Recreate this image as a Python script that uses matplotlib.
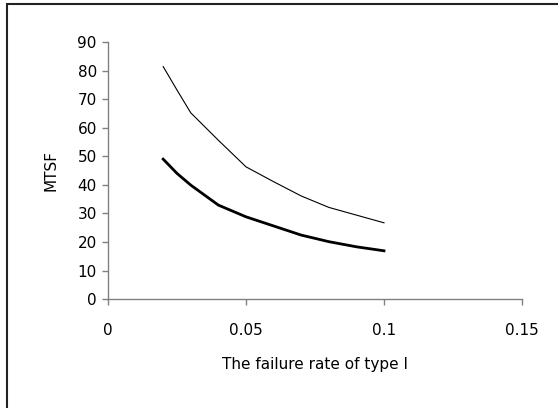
import matplotlib
matplotlib.use("Agg")
import matplotlib.pyplot as plt
from matplotlib.patches import Rectangle

plt.rcParams['font.family'] = ['DejaVu Sans']

# failure rate of type I
rate = [0.02, 0.025, 0.03, 0.04, 0.05, 0.06, 0.07, 0.08, 0.09, 0.1]
# MTSF, two series
mtsf_upper = [81.4, 73.2, 65.2, 55.6, 46.3, 41.1, 36.1, 32.1, 29.4, 26.7]
mtsf_lower = [49.0, 44.0, 39.9, 32.9, 28.8, 25.6, 22.4, 20.1, 18.3, 16.9]

xticks = [0, 0.05, 0.1, 0.15]
xtick_labels = ["0", "0.05", "0.1", "0.15"]
yticks = list(range(0, 100, 10))

fig = plt.figure(figsize=(5.58, 4.08), dpi=100)
ax = fig.add_axes([0.1935, 0.267, 0.742, 0.63])

ax.plot(rate, mtsf_upper, color="black", lw=0.8)
ax.plot(rate, mtsf_lower, color="black", lw=2.0)

ax.set_xlim(0, 0.15)
ax.set_ylim(0, 90)
ax.set_xticks(xticks)
ax.set_xticklabels(xtick_labels)
ax.set_yticks(yticks)

for s in ["top", "right"]:
    ax.spines[s].set_visible(False)
for s in ["left", "bottom"]:
    ax.spines[s].set_color("#808080")
    ax.spines[s].set_linewidth(1.0)

ax.tick_params(axis="both", direction="out", length=4, width=1.0,
               color="#808080", labelsize=11)
ax.tick_params(axis="x", pad=13)
ax.tick_params(axis="y", pad=4)

ax.set_ylabel("MTSF", fontsize=11, labelpad=14)
ax.set_xlabel("The failure rate of type I", fontsize=11, labelpad=14)

# outer chart frame (only top/left visible in the crop)
fig.patches.append(Rectangle((7 / 558, -0.1), 1.2, 1.1 - 4.5 / 408,
                             transform=fig.transFigure, fill=False,
                             edgecolor="#222222", lw=1.5))

fig.savefig("out.png", dpi=100)
